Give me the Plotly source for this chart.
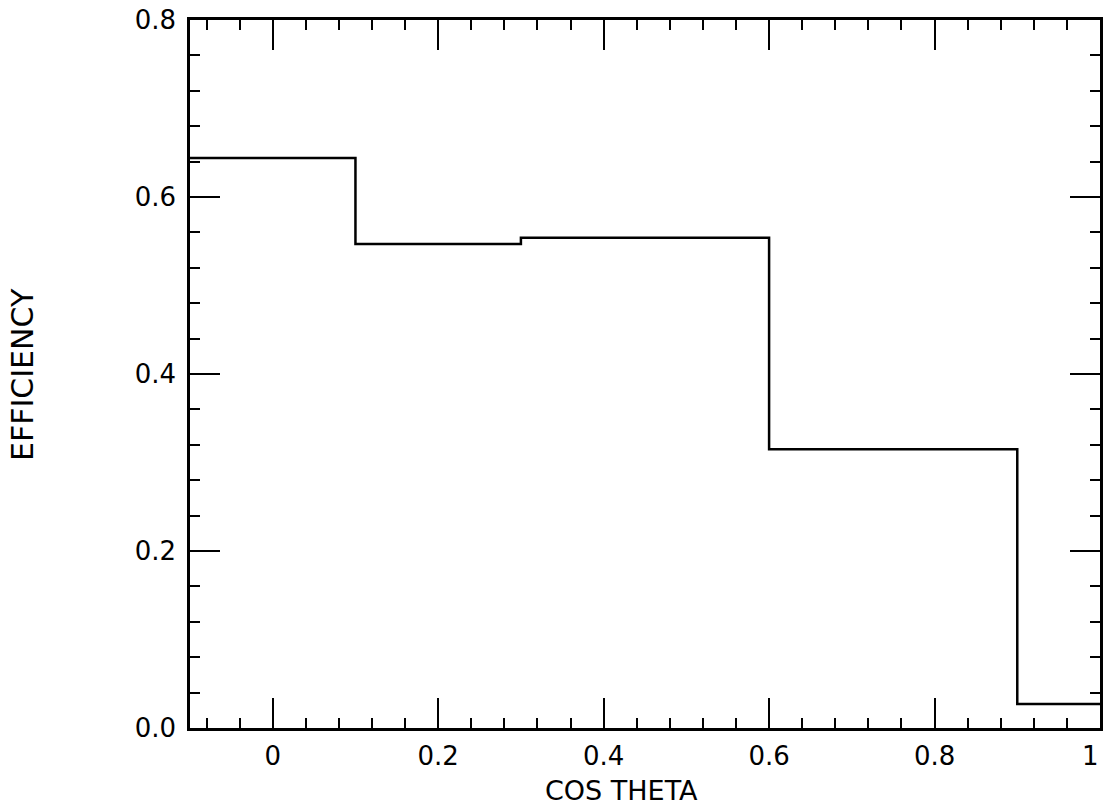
import plotly.graph_objects as go

# Histogram bin edges (cos theta) and efficiency per bin
bin_edges = [-0.1, 0.1, 0.3, 0.6, 0.9, 1.0]
efficiency = [0.644, 0.547, 0.554, 0.315, 0.027]

x_tickvals = [0, 0.2, 0.4, 0.6, 0.8, 1.0]
x_ticktext = ["0", "0.2", "0.4", "0.6", "0.8", "1"]
y_tickvals = [0.0, 0.2, 0.4, 0.6, 0.8]
y_ticktext = ["0.0", "0.2", "0.4", "0.6", "0.8"]

FONT = "DejaVu Sans"

fig = go.Figure()
fig.add_trace(go.Scatter(
    x=bin_edges,
    y=efficiency + [efficiency[-1]],
    mode="lines",
    line=dict(shape="hv", color="black", width=2.5),
    showlegend=False,
    hoverinfo="skip",
))

common_axis = dict(
    showline=True, linecolor="black", linewidth=2.5, mirror="allticks",
    ticks="inside", tickcolor="black", tickwidth=2, ticklen=30,
    showgrid=False, zeroline=False, automargin=False,
    tickfont=dict(family=FONT, size=26, color="black"),
)

# last x tick label sits at the right edge; draw it right-aligned so it stays visible
x_text_main = [t if v < 1.0 else "" for v, t in zip(x_tickvals, x_ticktext)]

fig.update_xaxes(
    range=[-0.1, 1.0], tickmode="array", tickvals=x_tickvals, ticktext=x_text_main,
    minor=dict(dtick=0.04, tick0=0, ticks="inside", ticklen=10, tickwidth=2, tickcolor="black"),
    ticklabelstandoff=3, ticklabeloverflow="allow",
    **common_axis,
)
fig.update_yaxes(
    range=[0, 0.8], tickmode="array", tickvals=y_tickvals, ticktext=y_ticktext,
    minor=dict(dtick=0.04, tick0=0, ticks="inside", ticklen=10, tickwidth=2, tickcolor="black"),
    ticklabelstandoff=6,
    **common_axis,
)

fig.add_annotation(text=x_ticktext[-1], xref="x", yref="paper", x=x_tickvals[-1], y=-0.0395,
                   xanchor="right", yanchor="middle", showarrow=False, borderpad=0,
                   font=dict(family=FONT, size=26, color="black"))

fig.add_annotation(text="COS THETA", xref="paper", yref="paper", x=0.4747, y=-0.0876,
                   xanchor="center", yanchor="middle", showarrow=False,
                   font=dict(family=FONT, size=27, color="black"))
fig.add_annotation(text="EFFICIENCY", xref="paper", yref="paper", x=-0.1835, y=0.4986,
                   xanchor="center", yanchor="middle", showarrow=False, textangle=-90,
                   font=dict(family=FONT, size=30, color="black"))

fig.update_layout(
    width=1103, height=809,
    margin=dict(l=190, r=3, t=20, b=81),
    paper_bgcolor="white", plot_bgcolor="white",
)

fig.write_html("out.html")
